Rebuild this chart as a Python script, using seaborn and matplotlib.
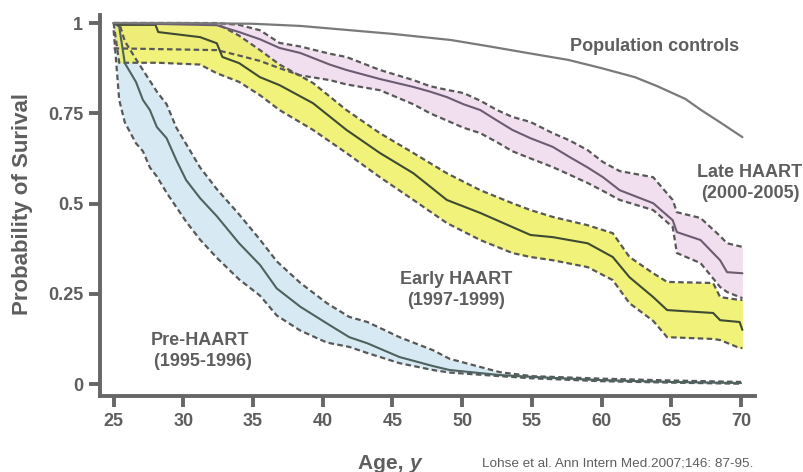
import numpy as np
import pandas as pd
import seaborn as sns
import matplotlib.pyplot as plt

# survival curves (age in years, probability)
pre_age = [25, 25.4, 25.8, 26.6, 27.1, 27.6, 28.1, 28.8, 29.5, 30.2, 31.2, 32.4, 34.0, 35.5,
           36.7, 38.4, 40.3, 41.9, 43.2, 45.5, 47.9, 49.1, 52.7, 55, 60, 65, 70]
pre_mid = [1.0, 0.99, 0.889, 0.837, 0.787, 0.759, 0.712, 0.681, 0.62, 0.565, 0.515, 0.465, 0.39, 0.33,
           0.265, 0.214, 0.168, 0.13, 0.113, 0.075, 0.05, 0.039, 0.025, 0.02, 0.011, 0.006, 0.003]
pre_hi = [1.0, 1.0, 0.95, 0.9, 0.87, 0.84, 0.81, 0.775, 0.71, 0.665, 0.6, 0.54, 0.47, 0.4,
          0.34, 0.28, 0.224, 0.186, 0.172, 0.13, 0.094, 0.07, 0.033, 0.022, 0.015, 0.01, 0.006]
pre_lo = [0.98, 0.787, 0.725, 0.667, 0.645, 0.6, 0.575, 0.53, 0.49, 0.45, 0.4, 0.35, 0.29, 0.245,
          0.19, 0.148, 0.115, 0.103, 0.086, 0.058, 0.039, 0.032, 0.022, 0.016, 0.008, 0.004, 0.001]

early_age = [25, 25.4, 28.0, 28.2, 31.2, 32.4, 32.8, 34.0, 35.5, 36.9, 39.3, 41.7, 44.1, 46.5,
             48.9, 51.3, 53.6, 54.9, 56.5, 59.0, 60.8, 62.0, 63.7, 64.7, 68.0, 68.5, 69.9, 70.1]
early_mid = [1.0, 0.995, 0.995, 0.975, 0.961, 0.944, 0.906, 0.889, 0.85, 0.828, 0.778, 0.704, 0.64, 0.584,
             0.51, 0.474, 0.435, 0.413, 0.407, 0.39, 0.352, 0.296, 0.241, 0.205, 0.197, 0.177, 0.172, 0.15]
early_hi = [1.0, 1.0, 1.0, 1.0, 1.0, 0.995, 0.99, 0.965, 0.925, 0.885, 0.834, 0.759, 0.695, 0.64,
            0.584, 0.537, 0.501, 0.482, 0.463, 0.44, 0.418, 0.352, 0.307, 0.283, 0.28, 0.241, 0.233, 0.233]
early_lo = [1.0, 0.89, 0.89, 0.89, 0.885, 0.861, 0.855, 0.837, 0.8, 0.759, 0.704, 0.64, 0.573, 0.51,
            0.446, 0.399, 0.363, 0.352, 0.343, 0.324, 0.288, 0.224, 0.175, 0.13, 0.125, 0.122, 0.1, 0.1]

late_age = [25, 32.4, 34.0, 35.5, 36.9, 38.4, 40.5, 41.7, 44.1, 46.5, 47.7, 48.9, 50.1, 51.3, 52.5,
            53.6, 54.9, 56.5, 57.7, 59.0, 60.1, 61.3, 63.7, 65.1, 65.4, 67.1, 68.5, 69.0, 70.1]
late_mid = [1.0, 0.994, 0.975, 0.955, 0.931, 0.917, 0.885, 0.87, 0.845, 0.823, 0.81, 0.795, 0.775, 0.759, 0.73,
            0.704, 0.681, 0.657, 0.629, 0.6, 0.573, 0.537, 0.501, 0.454, 0.421, 0.399, 0.343, 0.31, 0.307]
late_hi = [1.0, 1.0, 0.995, 0.98, 0.945, 0.935, 0.915, 0.906, 0.87, 0.842, 0.825, 0.815, 0.806, 0.785, 0.759,
           0.74, 0.726, 0.695, 0.675, 0.648, 0.615, 0.59, 0.573, 0.51, 0.476, 0.46, 0.41, 0.39, 0.38]
late_lo = [0.93, 0.925, 0.91, 0.895, 0.875, 0.855, 0.842, 0.83, 0.814, 0.775, 0.75, 0.73, 0.71, 0.695, 0.67,
           0.645, 0.625, 0.601, 0.58, 0.557, 0.535, 0.51, 0.482, 0.435, 0.363, 0.335, 0.269, 0.255, 0.238]

pop_age = [25, 30, 35, 38.4, 42, 45, 49.2, 52, 55, 57.6, 60, 62.4, 64, 66, 67.1, 68.5, 70.1]
pop_val = [1.0, 1.0, 0.998, 0.992, 0.98, 0.97, 0.953, 0.935, 0.915, 0.898, 0.875, 0.85, 0.825, 0.79,
           0.76, 0.725, 0.684]

xticks = [25, 30, 35, 40, 45, 50, 55, 60, 65, 70]
yticks = [0, 0.25, 0.5, 0.75, 1]
ylabels = ['0', '0.25', '0.5', '0.75', '1']

sns.set_style('white')
plt.rcParams['font.family'] = ['Liberation Sans', 'DejaVu Sans']

grey = '#666666'
txt = '#5e5e5e'

fig = plt.figure(figsize=(8.04, 4.72), dpi=100)
ax = fig.add_axes([0.124, 0.161, 0.815, 0.807])

# band colour, band alpha, band zorder, centre line colour
groups = [
    (pre_age, pre_mid, pre_lo, pre_hi, '#c6e2ee', 0.7, 1.0, '#4f625e'),
    (early_age, early_mid, early_lo, early_hi, '#eef062', 0.85, 1.2, '#3f4a33'),
    (late_age, late_mid, late_lo, late_hi, '#ecd2ea', 0.7, 1.1, '#6b5c72'),
]
for age, mid, lo, hi, fill, alpha, z, line in groups:
    df = pd.DataFrame({'age': age, 'mid': mid, 'lo': lo, 'hi': hi})
    ax.fill_between(df['age'], df['lo'], df['hi'], color=fill, alpha=alpha, lw=0, zorder=z)
    for col in ['lo', 'hi']:
        sns.lineplot(data=df, x='age', y=col, ax=ax, color='#585858', lw=1.6,
                     estimator=None, sort=False, zorder=3)
        ax.lines[-1].set_linestyle((0, (2.5, 1.5)))
    sns.lineplot(data=df, x='age', y='mid', ax=ax, color=line, lw=1.5,
                 estimator=None, sort=False, zorder=4)

pop = pd.DataFrame({'age': pop_age, 'val': pop_val})
sns.lineplot(data=pop, x='age', y='val', ax=ax, color='#7a7a7a', lw=1.6,
             estimator=None, sort=False, zorder=4)

ax.set_xlim(24.0, 71.0)
ax.set_ylim(-0.033, 1.022)
ax.set_xticks(xticks)
ax.set_yticks(yticks)
ax.set_yticklabels(ylabels)
for s in ['top', 'right']:
    ax.spines[s].set_visible(False)
for s in ['left', 'bottom']:
    ax.spines[s].set_color(grey)
    ax.spines[s].set_linewidth(2.8)
ax.tick_params(direction='out', length=8, width=2.8, color=grey, labelcolor=txt,
               labelsize=13, pad=4, left=True, bottom=True)
for lab in ax.get_xticklabels() + ax.get_yticklabels():
    lab.set_fontweight('bold')

ax.set_xlabel('')
ax.set_ylabel('Probability of Surival', fontsize=16, fontweight='bold', color=txt)
ax.yaxis.set_label_coords(-0.102, 0.504)

ax.text(0.473, -0.176, 'Age, ', transform=ax.transAxes, ha='right', va='center',
        fontsize=15, fontweight='bold', color=txt)
ax.text(0.473, -0.176, 'y', transform=ax.transAxes, ha='left', va='center',
        fontsize=15, fontweight='bold', fontstyle='italic', color=txt)
ax.text(0.583, -0.176, 'Lohse et al. Ann Intern Med.2007;146: 87-95.', transform=ax.transAxes,
        ha='left', va='center', fontsize=9.7, color=txt)

kw = dict(ha='center', va='center', fontsize=13, fontweight='bold', color=txt,
          linespacing=1.3, multialignment='center', clip_on=False)
ax.text(63.8, 0.936, 'Population controls', **kw)
ax.text(70.65, 0.557, 'Late HAART\n(2000-2005)', **kw)
ax.text(49.55, 0.26, 'Early HAART\n(1997-1999)', **kw)
ax.text(31.2, 0.091, 'Pre-HAART\n (1995-1996)', **kw)

plt.savefig('out.png', dpi=100)
